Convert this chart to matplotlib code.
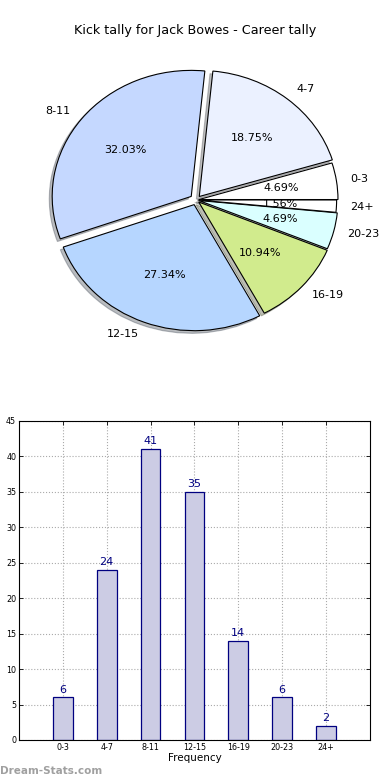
import matplotlib
matplotlib.use("Agg")
import matplotlib.pyplot as plt

categories = ["0-3", "4-7", "8-11", "12-15", "16-19", "20-23", "24+"]
counts = [6, 24, 41, 35, 14, 6, 2]
pie_colors = ["#ffffff", "#ebf1ff", "#c5d8ff", "#b6d6ff", "#d1eb8d", "#daffff", "#ffffff"]
explode = [0.02, 0.035, 0.045, 0.04, 0.025, 0.02, 0.01]
title = "Kick tally for Jack Bowes - Career tally"

fig = plt.figure(figsize=(3.9, 7.8), dpi=100)
fig.patch.set_facecolor("white")

ax1 = fig.add_axes([0.068, 0.5417, 0.87, 0.404])
wedges, texts, autotexts = ax1.pie(
    counts, labels=categories, colors=pie_colors, explode=explode,
    autopct="%1.2f%%", shadow=dict(ox=-0.015, oy=-0.015, alpha=0.35),
    startangle=0, counterclock=True,
    wedgeprops=dict(edgecolor="black", linewidth=0.8),
    textprops=dict(fontsize=8))
ax1.set_aspect("auto")
ax1.set_xlim(-1.22, 1.22)
ax1.set_ylim(-1.25, 1.25)
fig.text(0.5, 0.961, title, ha="center", va="center", fontsize=9.2)

ax2 = fig.add_axes([0.0487, 0.0513, 0.9, 0.409])
x = list(range(len(categories)))
bars = ax2.bar(x, counts, width=0.45, color="#ccccE4", edgecolor="#000080", linewidth=0.9, zorder=2)
for xi, c in zip(x, counts):
    ax2.text(xi, c + 0.4, str(c), ha="center", va="bottom", fontsize=8, color="#000080")
ax2.set_xlim(-1, 7)
ax2.set_ylim(0, 45)
ax2.set_yticks(range(0, 46, 5))
ax2.set_xticks(x)
ax2.set_xticklabels(categories)
ax2.tick_params(labelsize=5.8, direction="in", top=True, right=True, length=3, width=0.6, pad=2)
ax2.grid(True, linestyle=":", color="#aaaaaa", linewidth=0.8, zorder=0)
ax2.set_axisbelow(True)
ax2.set_xlabel("Frequency", fontsize=7.5, labelpad=1)
for s in ax2.spines.values():
    s.set_linewidth(0.8)

fig.text(0.0, 0.012, "Dream-Stats.com", fontsize=7.5, color="#a0a0a0", fontweight="bold", ha="left", va="center")

fig.savefig("out.png", dpi=100)
